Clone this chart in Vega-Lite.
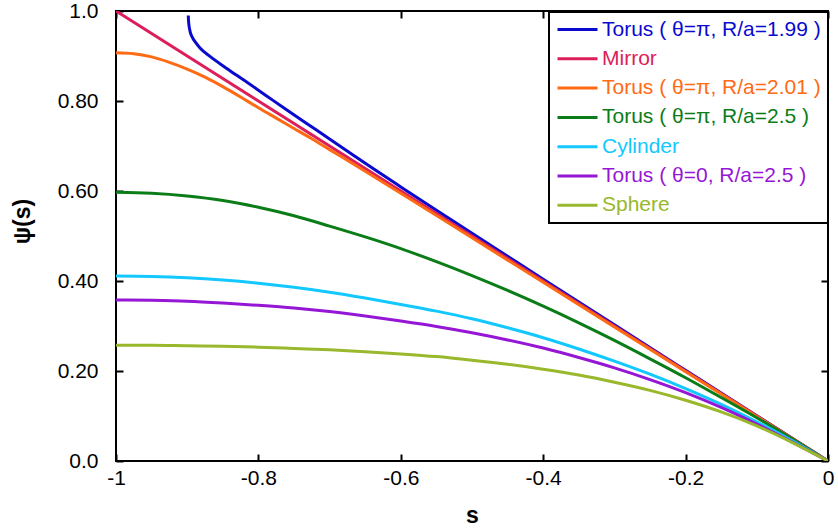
{
  "$schema": "https://vega.github.io/schema/vega-lite/v6.json",
  "width": 712,
  "height": 450,
  "autosize": {"type": "none"},
  "padding": {"left": 116, "top": 11, "right": 10, "bottom": 67},
  "background": "white",
  "config": {
    "view": {"stroke": "black", "strokeWidth": 2},
    "font": "Liberation Sans"
  },
  "data": {
    "values": [
      {"c": "Torus ( θ=π, R/a=1.99 )", "s": -0.8985, "p": 0.99},
      {"c": "Torus ( θ=π, R/a=1.99 )", "s": -0.8982, "p": 0.98},
      {"c": "Torus ( θ=π, R/a=1.99 )", "s": -0.8975, "p": 0.968},
      {"c": "Torus ( θ=π, R/a=1.99 )", "s": -0.8963, "p": 0.957},
      {"c": "Torus ( θ=π, R/a=1.99 )", "s": -0.8945, "p": 0.947},
      {"c": "Torus ( θ=π, R/a=1.99 )", "s": -0.892, "p": 0.939},
      {"c": "Torus ( θ=π, R/a=1.99 )", "s": -0.889, "p": 0.932},
      {"c": "Torus ( θ=π, R/a=1.99 )", "s": -0.882, "p": 0.918},
      {"c": "Torus ( θ=π, R/a=1.99 )", "s": -0.868, "p": 0.899},
      {"c": "Torus ( θ=π, R/a=1.99 )", "s": -0.845, "p": 0.873},
      {"c": "Torus ( θ=π, R/a=1.99 )", "s": -0.82, "p": 0.846},
      {"c": "Torus ( θ=π, R/a=1.99 )", "s": -0.79, "p": 0.813},
      {"c": "Torus ( θ=π, R/a=1.99 )", "s": -0.76, "p": 0.78},
      {"c": "Torus ( θ=π, R/a=1.99 )", "s": -0.72, "p": 0.737},
      {"c": "Torus ( θ=π, R/a=1.99 )", "s": -0.68, "p": 0.694},
      {"c": "Torus ( θ=π, R/a=1.99 )", "s": -0.64, "p": 0.651},
      {"c": "Torus ( θ=π, R/a=1.99 )", "s": -0.6, "p": 0.609},
      {"c": "Torus ( θ=π, R/a=1.99 )", "s": -0.55, "p": 0.557},
      {"c": "Torus ( θ=π, R/a=1.99 )", "s": -0.5, "p": 0.506},
      {"c": "Torus ( θ=π, R/a=1.99 )", "s": -0.45, "p": 0.455},
      {"c": "Torus ( θ=π, R/a=1.99 )", "s": -0.4, "p": 0.404},
      {"c": "Torus ( θ=π, R/a=1.99 )", "s": -0.3, "p": 0.3025},
      {"c": "Torus ( θ=π, R/a=1.99 )", "s": -0.2, "p": 0.2015},
      {"c": "Torus ( θ=π, R/a=1.99 )", "s": -0.1, "p": 0.1007},
      {"c": "Torus ( θ=π, R/a=1.99 )", "s": 0, "p": 0},
      {"c": "Mirror", "s": -1, "p": 1},
      {"c": "Mirror", "s": -0.5, "p": 0.5},
      {"c": "Mirror", "s": 0, "p": 0},
      {"c": "Torus ( θ=π, R/a=2.01 )", "s": -1, "p": 0.907},
      {"c": "Torus ( θ=π, R/a=2.01 )", "s": -0.975, "p": 0.905},
      {"c": "Torus ( θ=π, R/a=2.01 )", "s": -0.95, "p": 0.898},
      {"c": "Torus ( θ=π, R/a=2.01 )", "s": -0.925, "p": 0.886},
      {"c": "Torus ( θ=π, R/a=2.01 )", "s": -0.9, "p": 0.871},
      {"c": "Torus ( θ=π, R/a=2.01 )", "s": -0.875, "p": 0.853},
      {"c": "Torus ( θ=π, R/a=2.01 )", "s": -0.85, "p": 0.832},
      {"c": "Torus ( θ=π, R/a=2.01 )", "s": -0.825, "p": 0.809},
      {"c": "Torus ( θ=π, R/a=2.01 )", "s": -0.8, "p": 0.785},
      {"c": "Torus ( θ=π, R/a=2.01 )", "s": -0.775, "p": 0.762},
      {"c": "Torus ( θ=π, R/a=2.01 )", "s": -0.75, "p": 0.739},
      {"c": "Torus ( θ=π, R/a=2.01 )", "s": -0.725, "p": 0.716},
      {"c": "Torus ( θ=π, R/a=2.01 )", "s": -0.7, "p": 0.692},
      {"c": "Torus ( θ=π, R/a=2.01 )", "s": -0.65, "p": 0.644},
      {"c": "Torus ( θ=π, R/a=2.01 )", "s": -0.6, "p": 0.595},
      {"c": "Torus ( θ=π, R/a=2.01 )", "s": -0.5, "p": 0.496},
      {"c": "Torus ( θ=π, R/a=2.01 )", "s": -0.4, "p": 0.397},
      {"c": "Torus ( θ=π, R/a=2.01 )", "s": -0.3, "p": 0.298},
      {"c": "Torus ( θ=π, R/a=2.01 )", "s": -0.2, "p": 0.1985},
      {"c": "Torus ( θ=π, R/a=2.01 )", "s": -0.1, "p": 0.099},
      {"c": "Torus ( θ=π, R/a=2.01 )", "s": 0, "p": 0},
      {"c": "Torus ( θ=π, R/a=2.5 )", "s": -1, "p": 0.597},
      {"c": "Torus ( θ=π, R/a=2.5 )", "s": -0.95, "p": 0.595},
      {"c": "Torus ( θ=π, R/a=2.5 )", "s": -0.9, "p": 0.589},
      {"c": "Torus ( θ=π, R/a=2.5 )", "s": -0.85, "p": 0.579},
      {"c": "Torus ( θ=π, R/a=2.5 )", "s": -0.8, "p": 0.564},
      {"c": "Torus ( θ=π, R/a=2.5 )", "s": -0.75, "p": 0.545},
      {"c": "Torus ( θ=π, R/a=2.5 )", "s": -0.7, "p": 0.522},
      {"c": "Torus ( θ=π, R/a=2.5 )", "s": -0.65, "p": 0.498},
      {"c": "Torus ( θ=π, R/a=2.5 )", "s": -0.6, "p": 0.472},
      {"c": "Torus ( θ=π, R/a=2.5 )", "s": -0.55, "p": 0.443},
      {"c": "Torus ( θ=π, R/a=2.5 )", "s": -0.5, "p": 0.412},
      {"c": "Torus ( θ=π, R/a=2.5 )", "s": -0.45, "p": 0.379},
      {"c": "Torus ( θ=π, R/a=2.5 )", "s": -0.4, "p": 0.344},
      {"c": "Torus ( θ=π, R/a=2.5 )", "s": -0.35, "p": 0.307},
      {"c": "Torus ( θ=π, R/a=2.5 )", "s": -0.3, "p": 0.268},
      {"c": "Torus ( θ=π, R/a=2.5 )", "s": -0.25, "p": 0.227},
      {"c": "Torus ( θ=π, R/a=2.5 )", "s": -0.2, "p": 0.185},
      {"c": "Torus ( θ=π, R/a=2.5 )", "s": -0.15, "p": 0.141},
      {"c": "Torus ( θ=π, R/a=2.5 )", "s": -0.1, "p": 0.096},
      {"c": "Torus ( θ=π, R/a=2.5 )", "s": -0.05, "p": 0.049},
      {"c": "Torus ( θ=π, R/a=2.5 )", "s": 0, "p": 0},
      {"c": "Cylinder", "s": -1, "p": 0.411},
      {"c": "Cylinder", "s": -0.95, "p": 0.41},
      {"c": "Cylinder", "s": -0.9, "p": 0.407},
      {"c": "Cylinder", "s": -0.85, "p": 0.402},
      {"c": "Cylinder", "s": -0.8, "p": 0.395},
      {"c": "Cylinder", "s": -0.75, "p": 0.386},
      {"c": "Cylinder", "s": -0.7, "p": 0.375},
      {"c": "Cylinder", "s": -0.65, "p": 0.362},
      {"c": "Cylinder", "s": -0.6, "p": 0.348},
      {"c": "Cylinder", "s": -0.55, "p": 0.333},
      {"c": "Cylinder", "s": -0.5, "p": 0.316},
      {"c": "Cylinder", "s": -0.45, "p": 0.296},
      {"c": "Cylinder", "s": -0.4, "p": 0.274},
      {"c": "Cylinder", "s": -0.35, "p": 0.249},
      {"c": "Cylinder", "s": -0.3, "p": 0.222},
      {"c": "Cylinder", "s": -0.25, "p": 0.193},
      {"c": "Cylinder", "s": -0.2, "p": 0.161},
      {"c": "Cylinder", "s": -0.15, "p": 0.126},
      {"c": "Cylinder", "s": -0.1, "p": 0.087},
      {"c": "Cylinder", "s": -0.05, "p": 0.045},
      {"c": "Cylinder", "s": 0, "p": 0},
      {"c": "Torus ( θ=0, R/a=2.5 )", "s": -1, "p": 0.358},
      {"c": "Torus ( θ=0, R/a=2.5 )", "s": -0.95, "p": 0.357},
      {"c": "Torus ( θ=0, R/a=2.5 )", "s": -0.9, "p": 0.355},
      {"c": "Torus ( θ=0, R/a=2.5 )", "s": -0.85, "p": 0.351},
      {"c": "Torus ( θ=0, R/a=2.5 )", "s": -0.8, "p": 0.346},
      {"c": "Torus ( θ=0, R/a=2.5 )", "s": -0.75, "p": 0.34},
      {"c": "Torus ( θ=0, R/a=2.5 )", "s": -0.7, "p": 0.332},
      {"c": "Torus ( θ=0, R/a=2.5 )", "s": -0.65, "p": 0.322},
      {"c": "Torus ( θ=0, R/a=2.5 )", "s": -0.6, "p": 0.311},
      {"c": "Torus ( θ=0, R/a=2.5 )", "s": -0.55, "p": 0.299},
      {"c": "Torus ( θ=0, R/a=2.5 )", "s": -0.5, "p": 0.285},
      {"c": "Torus ( θ=0, R/a=2.5 )", "s": -0.45, "p": 0.269},
      {"c": "Torus ( θ=0, R/a=2.5 )", "s": -0.4, "p": 0.251},
      {"c": "Torus ( θ=0, R/a=2.5 )", "s": -0.35, "p": 0.23},
      {"c": "Torus ( θ=0, R/a=2.5 )", "s": -0.3, "p": 0.207},
      {"c": "Torus ( θ=0, R/a=2.5 )", "s": -0.25, "p": 0.181},
      {"c": "Torus ( θ=0, R/a=2.5 )", "s": -0.2, "p": 0.152},
      {"c": "Torus ( θ=0, R/a=2.5 )", "s": -0.15, "p": 0.119},
      {"c": "Torus ( θ=0, R/a=2.5 )", "s": -0.1, "p": 0.082},
      {"c": "Torus ( θ=0, R/a=2.5 )", "s": -0.05, "p": 0.042},
      {"c": "Torus ( θ=0, R/a=2.5 )", "s": 0, "p": 0},
      {"c": "Sphere", "s": -1, "p": 0.257},
      {"c": "Sphere", "s": -0.95, "p": 0.257},
      {"c": "Sphere", "s": -0.9, "p": 0.256},
      {"c": "Sphere", "s": -0.85, "p": 0.255},
      {"c": "Sphere", "s": -0.8, "p": 0.253},
      {"c": "Sphere", "s": -0.75, "p": 0.25},
      {"c": "Sphere", "s": -0.7, "p": 0.247},
      {"c": "Sphere", "s": -0.65, "p": 0.243},
      {"c": "Sphere", "s": -0.6, "p": 0.238},
      {"c": "Sphere", "s": -0.55, "p": 0.232},
      {"c": "Sphere", "s": -0.5, "p": 0.224},
      {"c": "Sphere", "s": -0.45, "p": 0.215},
      {"c": "Sphere", "s": -0.4, "p": 0.204},
      {"c": "Sphere", "s": -0.35, "p": 0.191},
      {"c": "Sphere", "s": -0.3, "p": 0.175},
      {"c": "Sphere", "s": -0.25, "p": 0.157},
      {"c": "Sphere", "s": -0.2, "p": 0.135},
      {"c": "Sphere", "s": -0.15, "p": 0.109},
      {"c": "Sphere", "s": -0.1, "p": 0.078},
      {"c": "Sphere", "s": -0.05, "p": 0.041},
      {"c": "Sphere", "s": 0, "p": 0}
    ]
  },
  "layer": [
    {
      "mark": {"type": "line", "strokeWidth": 3, "interpolate": "monotone", "clip": true},
      "encoding": {
        "x": {
          "field": "s", "type": "quantitative",
          "scale": {"domain": [-1, 0], "nice": false, "zero": false},
          "axis": {
            "orient": "bottom",
            "values": [-1, -0.8, -0.6, -0.4, -0.2, 0],
            "labelExpr": "datum.value == 0 ? '0' : datum.value == -1 ? '-1' : '-0.' + round(-datum.value * 10)",
            "grid": false,
            "domain": false,
            "tickSize": -7,
            "tickWidth": 2,
            "tickColor": "black",
            "labelPadding": 13,
            "labelFontSize": 21,
            "labelColor": "black",
            "labelFont": "Liberation Sans",
            "labelFlush": false,
            "title": "s",
            "titleFontSize": 23,
            "titleFontWeight": "bold",
            "titleColor": "black",
            "titleFont": "Liberation Sans",
            "titleY": 54,
            "titleBaseline": "middle"
          }
        },
        "y": {
          "field": "p", "type": "quantitative",
          "scale": {"domain": [0, 1], "nice": false},
          "axis": {
            "orient": "left",
            "values": [0, 0.2, 0.4, 0.6, 0.8, 1],
            "labelExpr": "datum.value == 0 ? '0.0' : datum.value == 1 ? '1.0' : '0.' + round(datum.value * 10) + '0'",
            "grid": false,
            "domain": false,
            "tickSize": -7,
            "tickWidth": 2,
            "tickColor": "black",
            "labelPadding": 25,
            "labelFontSize": 21,
            "labelColor": "black",
            "labelFont": "Liberation Sans",
            "labelFlush": false,
            "labelBaseline": "middle",
            "title": "ψ(s)",
            "titleFontSize": 23,
            "titleFontWeight": "bold",
            "titleColor": "black",
            "titleFont": "Liberation Sans",
            "titleAngle": -90,
            "titleX": -94,
            "titleY": 210,
            "titleBaseline": "middle",
            "titleAlign": "center"
          }
        },
        "color": {
          "field": "c", "type": "nominal",
          "scale": {
            "domain": ["Torus ( θ=π, R/a=1.99 )", "Mirror", "Torus ( θ=π, R/a=2.01 )", "Torus ( θ=π, R/a=2.5 )", "Cylinder", "Torus ( θ=0, R/a=2.5 )", "Sphere"],
            "range": ["#0A0ACF", "#DC1E5A", "#FF6A14", "#0B7D18", "#12C8FF", "#9616D6", "#99B82C"]
          },
          "legend": {
            "orient": "none",
            "legendX": 433,
            "legendY": 1,
            "title": null,
            "symbolType": "stroke",
            "symbolSize": 1600,
            "symbolStrokeWidth": 3,
            "clipHeight": 21,
            "rowPadding": 7.3,
            "labelOffset": 3,
            "labelFontSize": 21,
            "labelFont": "Liberation Sans",
            "labelLimit": 400,
            "padding": 7,
            "strokeColor": "black",
            "fillColor": "white",
            "encode": {
              "labels": {"update": {"fill": {"scale": "color", "field": "value"}}},
              "legend": {"update": {"strokeWidth": {"value": 2}}}
            }
          }
        }
      }
    },
    {
      "mark": {"type": "line", "opacity": 0},
      "encoding": {
        "x": {
          "field": "s", "type": "quantitative",
          "axis": {
            "orient": "top",
            "values": [-1, -0.8, -0.6, -0.4, -0.2, 0],
            "labels": false, "grid": false, "domain": false,
            "tickSize": -7, "tickWidth": 2, "tickColor": "black", "title": null
          }
        },
        "y": {
          "field": "p", "type": "quantitative",
          "axis": {
            "orient": "right",
            "values": [0, 0.2, 0.4, 0.6, 0.8, 1],
            "labels": false, "grid": false, "domain": false,
            "tickSize": -7, "tickWidth": 2, "tickColor": "black", "title": null
          }
        }
      }
    }
  ],
  "resolve": {"axis": {"x": "independent", "y": "independent"}}
}
